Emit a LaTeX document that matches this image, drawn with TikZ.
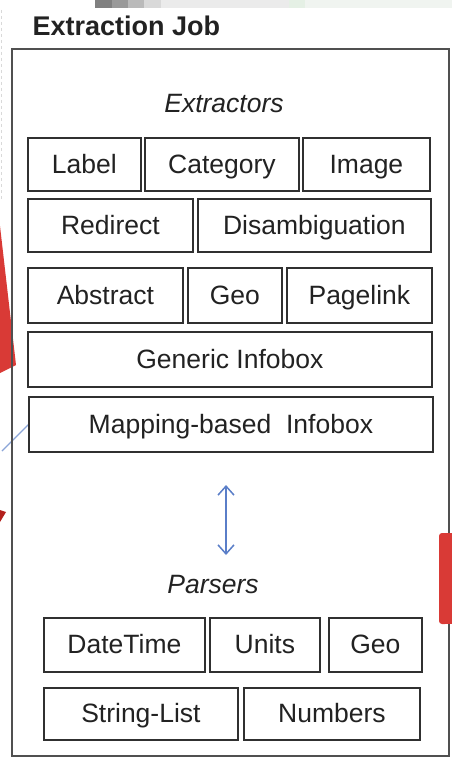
\documentclass[tikz,border=0pt]{standalone}
\usepackage{fontspec}
\setmainfont{Liberation Sans}
\usetikzlibrary{arrows.meta}
\definecolor{boxline}{HTML}{303030}
\definecolor{frameline}{HTML}{505050}
\definecolor{txt}{HTML}{222222}
\definecolor{flowblue}{HTML}{5A7EC8}
\definecolor{alertred}{HTML}{D93A36}
\definecolor{deepred}{HTML}{B3201C}
\tikzset{
  box/.style={draw=boxline, line width=1.8pt, fill=white, anchor=north west,
    inner sep=0pt, text=txt, text height=19pt, text depth=1pt,
    font=\fontsize{26.5}{30}\selectfont},
  heading/.style={text=txt, font=\fontsize{26.5}{30}\selectfont\itshape},
  frame/.style={draw=frameline, line width=2.4pt},
}
\newcommand{\bx}[6]{% name, x1, y1, x2, y2, text
  \pgfmathsetmacro{\bw}{#4-#2}\pgfmathsetmacro{\bh}{#5-#3}%
  \node[box, minimum width=\bw pt, minimum height=\bh pt] (#1) at (#2,#3) {#6};}
\begin{document}
\begin{tikzpicture}[x=1pt,y=-1pt]
  \useasboundingbox (0,0) rectangle (452,757);
  \fill[white] (0,0) rectangle (452,757);

  % strip of neighbouring content along the top edge
  \fill[black!50] (95,0) rectangle (112,8);
  \fill[black!40] (112,0) rectangle (128,8);
  \fill[black!27] (128,0) rectangle (144,8);
  \fill[black!15] (144,0) rectangle (161,8);
  \fill[black!8] (161,0) rectangle (289,8);
  \fill[green!40!black!10!white] (289,0) rectangle (305,8);
  \fill[green!30!black!6!white] (305,0) rectangle (452,8);
  \draw[black!15, line width=1pt, dashed] (1,10) -- (1,200);

  % red arrow shapes and blue line around the job frame
  \fill[alertred] (0,226) -- (16,365) -- (0,373) -- cycle;
  \fill[deepred] (0,510) -- (6,512) -- (0,522) -- cycle;
  \coordinate (blueA) at (2,451);
  \coordinate (blueB) at (29,424);
  \draw[flowblue!70, line width=1.4pt] (blueA) -- (blueB);

  % title and outer frame
  \node[anchor=base west, text=txt, font=\fontsize{27}{30}\selectfont\bfseries] (title) at (29,36) {Extraction Job};
  \draw[frame] (12,49) rectangle (449,756);

  \fill[alertred] (444,533) rectangle (452,624);
  \fill[alertred, rounded corners=3pt] (439,533) rectangle (448,624);

  % extractors
  \node[heading] (extr) at (224,104) {Extractors};
  \bx{label}{27}{137}{140}{190}{Label}
  \bx{category}{144}{137}{298}{190}{Category}
  \bx{image}{302}{137}{429}{190}{Image}
  \bx{redirect}{27}{198}{192}{251}{Redirect}
  \bx{disamb}{197}{198}{430}{251}{Disambiguation}
  \bx{abstract}{27}{267}{182}{322}{Abstract}
  \bx{geoX}{187}{267}{281}{322}{Geo}
  \bx{pagelink}{286}{267}{431}{322}{Pagelink}
  \bx{generic}{27}{331}{431}{386}{Generic Infobox}
  \bx{mapping}{28}{396}{432}{451}{Mapping-based\ \ Infobox}

  % link between extractors and parsers
  \coordinate (arrTop) at (226,485);
  \coordinate (arrBot) at (226,555);
  \draw[flowblue, line width=1.5pt,
    {Straight Barb[length=9pt,width=16pt,line width=1.5pt]}-{Straight Barb[length=9pt,width=16pt,line width=1.5pt]}]
    (arrTop) -- (arrBot);

  % parsers
  \node[heading] (pars) at (213,585) {Parsers};
  \bx{datetime}{43}{617}{204}{671}{DateTime}
  \bx{units}{209}{617}{319}{671}{Units}
  \bx{geoP}{328}{617}{421}{671}{Geo}
  \bx{stringlist}{43}{687}{237}{739}{String-List}
  \bx{numbers}{243}{687}{419}{739}{Numbers}
\end{tikzpicture}
\end{document}
